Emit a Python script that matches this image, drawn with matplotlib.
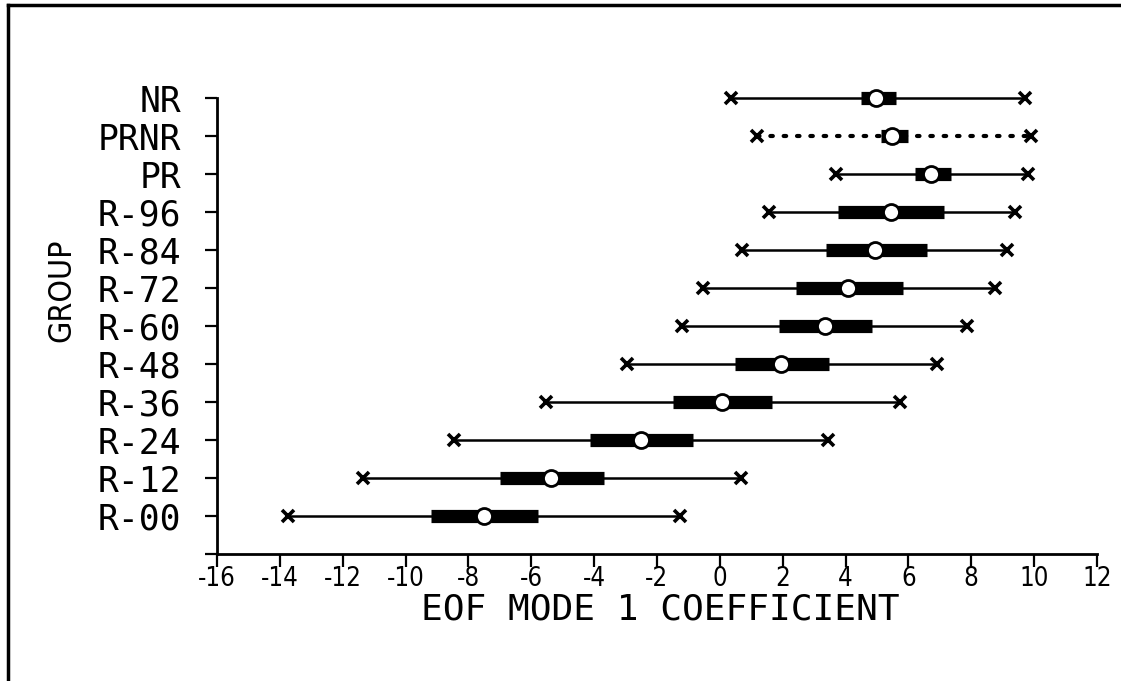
import matplotlib
matplotlib.use("Agg")
import matplotlib.pyplot as plt
from matplotlib.lines import Line2D

# groups from bottom to top
groups = ["R-00", "R-12", "R-24", "R-36", "R-48", "R-60", "R-72",
          "R-84", "R-96", "PR", "PRNR", "NR"]
mins = [-13.75, -11.37, -8.47, -5.52, -2.97, -1.2, -0.53,
        0.72, 1.57, 3.69, 1.17, 0.36]
maxs = [-1.27, 0.66, 3.45, 5.73, 6.91, 7.87, 8.77,
        9.15, 9.38, 9.81, 9.9, 9.72]
q1 = [-9.18, -6.98, -4.14, -1.49, 0.48, 1.88, 2.42,
      3.37, 3.77, 6.2, 5.12, 4.48]
q3 = [-5.78, -3.69, -0.87, 1.67, 3.48, 4.83, 5.83,
      6.58, 7.13, 7.34, 5.99, 5.62]
medians = [-7.51, -5.36, -2.52, 0.07, 1.93, 3.34, 4.09,
           4.93, 5.46, 6.73, 5.49, 4.98]
styles = ["-"] * 10 + [":", "-"]

xticks = list(range(-16, 13, 2))

fig = plt.figure(figsize=(11.21, 6.81), dpi=100)
ax = fig.add_axes([217 / 1121, 1 - 554 / 681, 880 / 1121, 456 / 681])

for i, g in enumerate(groups):
    y = i + 1
    if styles[i] == ":":
        ax.plot([mins[i], maxs[i]], [y, y], color="black", lw=3,
                linestyle=(0, (0.6, 2.6)), dash_capstyle="round", zorder=2,
                clip_on=False)
    else:
        ax.plot([mins[i], maxs[i]], [y, y], color="black", lw=1.8, zorder=2,
                clip_on=False)
    ax.plot([q1[i], q3[i]], [y, y], color="black", lw=9.5,
            solid_capstyle="butt", zorder=3, clip_on=False)
    ax.plot([mins[i], maxs[i]], [y, y], linestyle="none", marker="x",
            color="black", markersize=9, mew=2.6, zorder=4, clip_on=False)
    ax.plot(medians[i], y, marker="o", markersize=11.5, mfc="white",
            mec="black", mew=2, linestyle="none", zorder=5, clip_on=False)

ax.set_xlim(-16, 12)
ax.set_ylim(0, 12)
ax.set_xticks(xticks)
ax.set_xticklabels([str(t) for t in xticks], fontsize=18.5,
                   fontstretch="condensed")
ax.set_yticks(range(0, 13))
ax.set_yticklabels([""] + groups, fontsize=25, family="DejaVu Sans Mono")
ax.tick_params(axis="both", direction="out", length=9, width=1.6, pad=0)
ax.tick_params(axis="y", pad=17)

for s in ["top", "right"]:
    ax.spines[s].set_visible(False)
for s in ["left", "bottom"]:
    ax.spines[s].set_linewidth(2)

fig.text(660 / 1121, 1 - 610 / 681, "EOF MODE 1 COEFFICIENT", fontsize=26,
         family="DejaVu Sans Mono", ha="center", va="center")
fig.text(62 / 1121, 1 - 290 / 681, "GROUP", fontsize=23, fontstretch="condensed",
         rotation=90, ha="center", va="center")

# border of the plotting page
fig.add_artist(Line2D([8 / 1121, 8 / 1121], [0, 1 - 5 / 681], color="black",
                      lw=2.5, transform=fig.transFigure))
fig.add_artist(Line2D([8 / 1121, 1], [1 - 5 / 681, 1 - 5 / 681], color="black",
                      lw=2.5, transform=fig.transFigure))

fig.savefig("out.png", dpi=100)
